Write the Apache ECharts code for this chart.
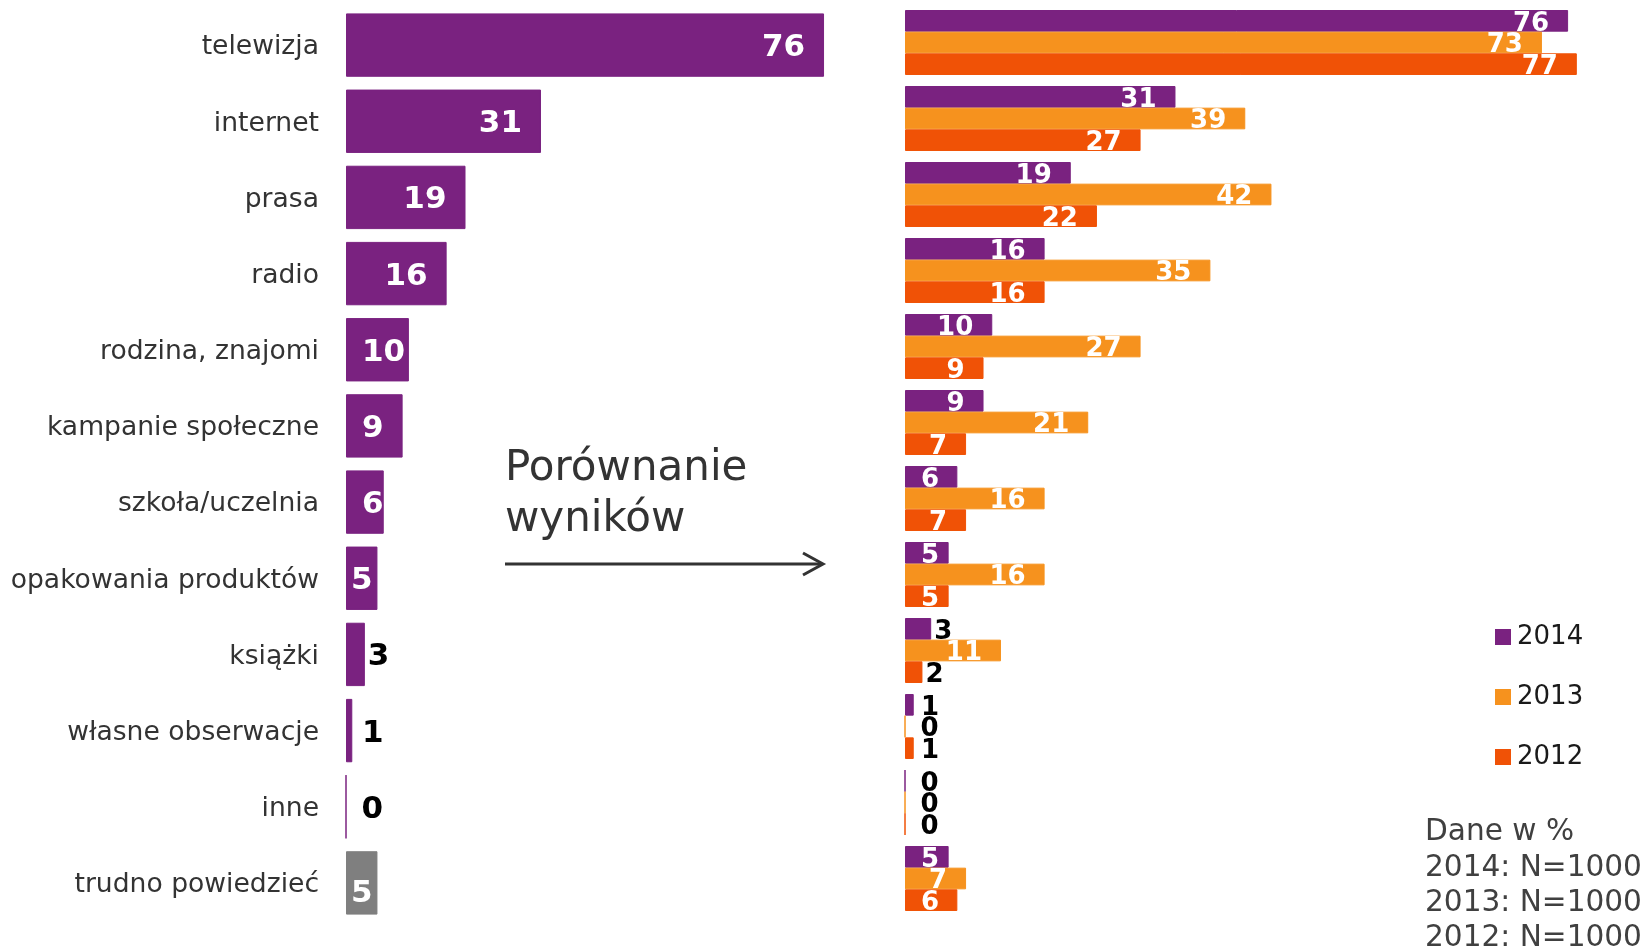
<!DOCTYPE html>
<html>
<head>
<meta charset="utf-8">
<script src="https://cdn.jsdelivr.net/npm/echarts@6/dist/echarts.min.js"></script>
<style>
  html, body { margin: 0; padding: 0; background: #fff; }
  #chart { width: 1647px; height: 949px; }
</style>
</head>
<body>
<div id="chart"></div>
<script>
// kategorie (od góry)
const categories = [
  'telewizja', 'internet', 'prasa', 'radio', 'rodzina, znajomi',
  'kampanie społeczne', 'szkoła/uczelnia', 'opakowania produktów',
  'książki', 'własne obserwacje', 'inne', 'trudno powiedzieć'
]
// wartości w %
const values2014 = [76, 31, 19, 16, 10, 9, 6, 5, 3, 1, 0, 5]
const values2013 = [73, 39, 42, 35, 27, 21, 16, 16, 11, 0, 0, 7]
const values2012 = [77, 27, 22, 16, 9, 7, 7, 5, 2, 1, 0, 6]
const years = ['2014', '2013', '2012']
const notes = ['Dane w %', '2014: N=1000', '2013: N=1000', '2012: N=1000']

const PURPLE = '#7a2280'
const ORANGE = '#f6921e'
const RED = '#f05206'
const GRAY = '#7f7f7f'
const FONT = 'DejaVu Sans'

// px na jednostkę (szerokość siatki / max osi)
const LEFT_SCALE = 503.2 / 80
const RIGHT_SCALE = 698 / 80

// pozycja etykiety zależnie od szerokości słupka
const barLabel = (value, scale, fontSize) => {
  const w = String(value).length * 0.696 * fontSize
  const bw = value * scale
  const base = { show: true, fontFamily: FONT, fontWeight: 'bold', fontSize: fontSize, offset: [0, 3] }
  if (bw >= w + 35) return { ...base, position: 'insideRight', distance: 19, color: '#fff' }
  if (bw >= w + 16) return { ...base, position: 'insideLeft', distance: 16, color: '#fff' }
  if (bw >= w + 9) return { ...base, position: 'inside', color: '#fff' }
  if (bw >= 16) return { ...base, position: 'right', distance: 3, color: '#000' }
  return { ...base, position: 'insideLeft', distance: 16, color: '#000' }
}

const leftData = values2014.map((v, i) => {
  const isGray = categories[i] === 'trudno powiedzieć'
  const label = barLabel(v, LEFT_SCALE, 31)
  if (isGray) label.offset = [0, 11]
  return {
    value: v,
    itemStyle: { color: isGray ? GRAY : PURPLE, borderColor: isGray ? GRAY : PURPLE, borderWidth: 1 },
    label: label
  }
})

const rightSeries = [values2014, values2013, values2012].map((arr, k) => {
  const color = [PURPLE, ORANGE, RED][k]
  return {
    name: years[k],
    type: 'bar',
    xAxisIndex: 1,
    yAxisIndex: 1,
    barGap: '0%',
    barCategoryGap: '14.5%',
    itemStyle: { color: color, borderColor: color, borderWidth: 1 },
    data: arr.map(v => ({ value: v, label: barLabel(v, RIGHT_SCALE, 26) }))
  }
})

const chart = echarts.init(document.getElementById('chart'))

const option = {
  animation: false,
  backgroundColor: '#fff',
  grid: [
    { left: 346, top: 7, width: 503.2, height: 914 },
    { left: 905, top: 4.5, width: 698, height: 912 }
  ],
  xAxis: [
    { gridIndex: 0, type: 'value', min: 0, max: 80, show: false },
    { gridIndex: 1, type: 'value', min: 0, max: 80, show: false }
  ],
  yAxis: [
    {
      gridIndex: 0,
      type: 'category',
      inverse: true,
      data: categories,
      axisLine: { show: false },
      axisTick: { show: false },
      axisLabel: {
        margin: 27,
        fontFamily: FONT,
        fontSize: 26.6,
        color: '#333',
        formatter: v => '{c|' + v + '}',
        rich: { c: { fontFamily: FONT, fontSize: 26.6, color: '#333', padding: [5, 0, 0, 0] } }
      }
    },
    {
      gridIndex: 1,
      type: 'category',
      inverse: true,
      data: categories,
      axisLine: { show: false },
      axisTick: { show: false },
      axisLabel: { show: false }
    }
  ],
  legend: {
    data: years,
    orient: 'vertical',
    left: 1490,
    top: 619,
    itemWidth: 14,
    itemHeight: 14,
    itemGap: 34,
    icon: 'rect',
    textStyle: { fontFamily: FONT, fontSize: 26, color: '#1a1a1a', padding: [0, 0, 0, 2] }
  },
  graphic: [
    {
      type: 'text',
      x: 505,
      y: 469,
      style: { text: 'Porównanie', font: '42px "DejaVu Sans"', fill: '#333', verticalAlign: 'middle' }
    },
    {
      type: 'text',
      x: 505,
      y: 520,
      style: { text: 'wyników', font: '42px "DejaVu Sans"', fill: '#333', verticalAlign: 'middle' }
    },
    {
      type: 'line',
      shape: { x1: 505, y1: 564, x2: 822, y2: 564 },
      style: { stroke: '#333', lineWidth: 3 }
    },
    {
      type: 'polyline',
      shape: { points: [[803, 553], [823, 564], [803, 575]] },
      style: { stroke: '#333', lineWidth: 3, fill: null }
    },
    {
      type: 'text',
      x: 1425,
      y: 815,
      style: {
        text: notes.join('\n'),
        font: '29.6px "DejaVu Sans"',
        lineHeight: 35.3,
        fill: '#404040',
        verticalAlign: 'top'
      }
    }
  ],
  series: [
    {
      name: 'wyniki',
      type: 'bar',
      xAxisIndex: 0,
      yAxisIndex: 0,
      barCategoryGap: '16.8%',
      data: leftData
    },
    ...rightSeries
  ]
}

chart.setOption(option)
window.addEventListener('resize', () => chart.resize())
</script>
</body>
</html>
